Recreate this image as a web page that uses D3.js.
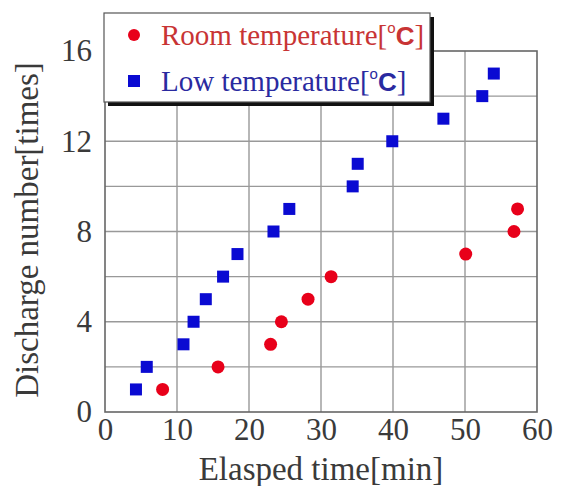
<!DOCTYPE html>
<html>
<head>
<meta charset="utf-8">
<script src="https://cdn.jsdelivr.net/npm/d3@7"></script>
<style>
  body { margin: 0; background: #fff; }
  svg text { font-family: "Liberation Serif", "DejaVu Serif", serif; }
</style>
</head>
<body>
<div id="chart"></div>
<script>
// series
var roomTime = [8.0, 15.7, 23.0, 24.5, 28.2, 31.4, 50.1, 56.8, 57.3];
var roomCount = [1, 2, 3, 4, 5, 6, 7, 8, 9];
var lowTime = [4.3, 5.8, 10.9, 12.3, 14.0, 16.4, 18.4, 23.4, 25.6, 34.4, 35.1, 39.9, 47.0, 52.4, 54.0];
var lowCount = [1, 2, 3, 4, 5, 6, 7, 8, 9, 10, 11, 12, 13, 14, 15];
var xTicks = [0, 10, 20, 30, 40, 50, 60];
var yTicks = [0, 4, 8, 12, 16];
var yGrid = [2, 4, 6, 8, 10, 12, 14];

var width = 566, height = 486;
var margin = { top: 51, right: 29, bottom: 74, left: 105 };
var w = width - margin.left - margin.right,
    h = height - margin.top - margin.bottom;

var x = d3.scaleLinear().domain([0, 60]).range([0, w]);
var y = d3.scaleLinear().domain([0, 16]).range([h, 0]);

var svg = d3.select("#chart").append("svg")
    .attr("width", width)
    .attr("height", height);

var g = svg.append("g")
    .attr("transform", "translate(" + margin.left + "," + margin.top + ")");

// grid
g.selectAll(".vgrid").data(xTicks.slice(1, -1)).enter().append("line")
    .attr("x1", function (d) { return x(d); })
    .attr("x2", function (d) { return x(d); })
    .attr("y1", 0).attr("y2", h)
    .attr("stroke", "#999").attr("stroke-width", 1.4);
g.selectAll(".hgrid").data(yGrid).enter().append("line")
    .attr("y1", function (d) { return y(d); })
    .attr("y2", function (d) { return y(d); })
    .attr("x1", 0).attr("x2", w)
    .attr("stroke", "#999").attr("stroke-width", 1.4);

// frame
g.append("rect")
    .attr("width", w).attr("height", h)
    .attr("fill", "none").attr("stroke", "#666").attr("stroke-width", 1.6);

// axes
var xAxis = g.append("g")
    .attr("transform", "translate(0," + h + ")")
    .call(d3.axisBottom(x).tickValues(xTicks).tickSize(0).tickPadding(6));
var yAxis = g.append("g")
    .call(d3.axisLeft(y).tickValues(yTicks).tickSize(0).tickPadding(13));
[xAxis, yAxis].forEach(function (a) {
    a.select(".domain").remove();
    a.selectAll("text")
        .attr("font-family", "Liberation Serif, serif")
        .attr("font-size", 31)
        .attr("fill", "#3a3a3a");
});
xAxis.selectAll("text").attr("dy", "0.72em");

// axis titles
svg.append("text")
    .attr("x", 321)
    .attr("y", 480)
    .attr("text-anchor", "middle")
    .attr("font-size", 33)
    .attr("fill", "#3a3a3a")
    .text("Elasped time[min]");
svg.append("text")
    .attr("transform", "translate(38,230) rotate(-90)")
    .attr("text-anchor", "middle")
    .attr("font-size", 33)
    .attr("fill", "#3a3a3a")
    .text("Discharge number[times]");

// points
g.selectAll(".low").data(lowTime).enter().append("rect")
    .attr("x", function (d) { return x(d) - 6; })
    .attr("y", function (d, i) { return y(lowCount[i]) - 6; })
    .attr("width", 12).attr("height", 12)
    .attr("fill", "#0a0ad2");
g.selectAll(".room").data(roomTime).enter().append("circle")
    .attr("cx", function (d) { return x(d); })
    .attr("cy", function (d, i) { return y(roomCount[i]); })
    .attr("r", 6.5)
    .attr("fill", "#e8001a");

// legend
var legend = svg.append("g").attr("transform", "translate(104,13)");
legend.append("rect")
    .attr("x", 4).attr("y", 4)
    .attr("width", 326).attr("height", 89)
    .attr("fill", "#111");
legend.append("rect")
    .attr("width", 326).attr("height", 89)
    .attr("fill", "#fff").attr("stroke", "#555").attr("stroke-width", 1.2);

var items = [
    { label: "Room temperature[", color: "#c83434", mark: "#e8001a", shape: "circle" },
    { label: "Low temperature[", color: "#2a2aa0", mark: "#0a0ad2", shape: "square" }
];
items.forEach(function (it, i) {
    var cy = 22 + i * 46;
    if (it.shape == "circle") {
        legend.append("circle").attr("cx", 30).attr("cy", cy).attr("r", 6).attr("fill", it.mark);
    } else {
        legend.append("rect").attr("x", 24).attr("y", cy - 6).attr("width", 12).attr("height", 12).attr("fill", it.mark);
    }
    var t = legend.append("text")
        .attr("x", 57).attr("y", cy + 10)
        .attr("font-size", 29)
        .attr("fill", it.color);
    t.append("tspan").text(it.label);
    t.append("tspan").attr("font-family", "Liberation Sans, Arial, sans-serif")
        .attr("font-size", 15).attr("dy", -12).text("o");
    t.append("tspan").attr("font-family", "Liberation Sans, Arial, sans-serif")
        .attr("font-size", 26).attr("font-weight", "bold").attr("dy", 12).text("C");
    t.append("tspan").text("]");
});
</script>
</body>
</html>
